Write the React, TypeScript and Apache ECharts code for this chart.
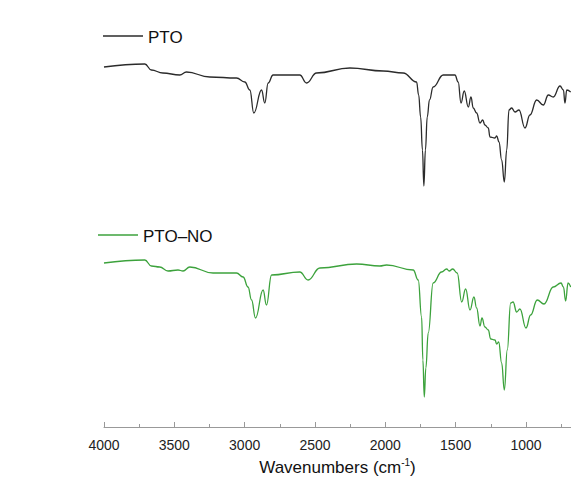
import React, { useEffect, useRef } from "react";
import * as echarts from "echarts";

// FTIR spectra (x: wavenumber in cm^-1, y: relative transmittance in arbitrary, offset units)
const ptoWavenumbers = [
  4000, 3710, 3663, 3582, 3461, 3414, 3248, 3058, 2999, 2963, 2935, 2880, 2857, 2833, 2798,
  2608, 2560, 2489, 2252, 2015, 1873, 1778, 1763, 1749, 1736, 1726, 1715, 1702, 1686, 1660,
  1588, 1505, 1482, 1462, 1439, 1410, 1391, 1375, 1351, 1327, 1308, 1292, 1268, 1256, 1221,
  1208, 1192, 1173, 1154, 1137, 1121, 1102, 1078, 1050, 1007, 972, 924, 877, 841, 806,
  758, 734, 723, 710, 682,
];
const ptoValues = [
  360, 363, 357, 354, 352, 355, 350, 349, 345, 337, 314, 337, 324, 344, 352,
  352, 344, 354, 359, 356, 354, 345, 332, 310, 277, 241, 277, 310, 327, 340,
  352, 352, 345, 324, 336, 320, 330, 319, 314, 304, 307, 302, 299, 290, 289,
  291, 285, 267, 245, 277, 317, 319, 315, 317, 299, 312, 327, 322, 332, 330,
  341, 337, 324, 337, 335,
];

const ptoNoWavenumbers = [
  4000, 3710, 3663, 3604, 3545, 3474, 3438, 3390, 3225, 3058, 3011, 2976, 2951, 2923, 2869,
  2845, 2809, 2608, 2549, 2465, 2204, 2039, 1991, 1802, 1766, 1742, 1733, 1723, 1712, 1695,
  1660, 1600, 1564, 1546, 1521, 1489, 1457, 1429, 1398, 1370, 1351, 1327, 1313, 1292, 1268,
  1251, 1221, 1208, 1194, 1173, 1154, 1133, 1109, 1092, 1066, 1043, 1000, 967, 920, 872,
  806, 751, 734, 718, 701, 682,
];
const ptoNoValues = [
  164, 167, 161, 160, 156, 157, 156, 160, 154, 154, 150, 140, 127, 109, 137,
  122, 152, 155, 147, 159, 163, 161, 162, 157, 147, 110, 67, 30, 59, 94,
  144, 155, 158, 156, 158, 154, 125, 138, 117, 130, 119, 101, 109, 100, 97,
  88, 87, 83, 85, 64, 37, 77, 124, 125, 115, 118, 99, 112, 127, 123,
  140, 144, 140, 126, 144, 140,
];

const majorTicks = [4000, 3500, 3000, 2500, 2000, 1500, 1000];
const minorTicks = [3750, 3250, 2750, 2250, 1750, 1250, 750];

const seriesNames = ["PTO", "PTO\u2013NO"];
const seriesColors = ["#2b2b2b", "#3ca23c"];

const FONT = "'Liberation Sans', Arial, Helvetica, sans-serif";

export default function App() {
  const ref = useRef<HTMLDivElement>(null);

  useEffect(() => {
    if (!ref.current) return;
    const chart = echarts.init(ref.current, undefined, { renderer: "svg" });

    const pto = ptoWavenumbers.map((w, i) => [w, ptoValues[i]]);
    const ptoNo = ptoNoWavenumbers.map((w, i) => [w, ptoNoValues[i]]);

    const xBase = {
      type: "value" as const,
      min: 680,
      max: 4000,
      inverse: true,
      splitLine: { show: false },
    };

    const legendItem = (x: number, y: number, name: string, color: string) => ({
      type: "group",
      children: [
        {
          type: "line",
          shape: { x1: x, y1: y, x2: x + 40, y2: y },
          style: { stroke: color, lineWidth: 1.3 },
        },
        {
          type: "text",
          x: x + 45,
          y: y + 1,
          style: {
            text: name,
            fill: "#111",
            font: `17px ${FONT}`,
            textVerticalAlign: "middle",
            verticalAlign: "middle",
          },
        },
      ],
    });

    chart.setOption({
      animation: false,
      backgroundColor: "#ffffff",
      textStyle: { fontFamily: FONT },
      grid: {
        left: 104,
        right: 0,
        top: 27,
        bottom: 58,
        containLabel: false,
        outerBoundsMode: "none",
      },
      graphic: [
        legendItem(103, 36, seriesNames[0], seriesColors[0]),
        legendItem(98, 235, seriesNames[1], seriesColors[1]),
      ],
      xAxis: [
        {
          ...xBase,
          position: "bottom",
          name: "{a|Wavenumbers (cm}{s|-1}{a|)}",
          nameLocation: "middle",
          nameGap: 30,
          nameTextStyle: {
            rich: {
              a: { fontSize: 17, color: "#111", fontFamily: FONT, lineHeight: 20 },
              s: { fontSize: 10, color: "#111", fontFamily: FONT, verticalAlign: "top", lineHeight: 20, padding: [0, 0, 10, 0] },
            },
          },
          axisLine: { show: true, lineStyle: { color: "#999", width: 1 } },
          axisTick: {
            show: true,
            inside: true,
            length: 5,
            customValues: majorTicks,
            lineStyle: { color: "#999" },
          },
          axisLabel: {
            show: true,
            customValues: majorTicks,
            margin: 11,
            fontSize: 14,
            color: "#222",
            fontFamily: FONT,
            formatter: (v: number) => String(v),
          },
        },
        {
          ...xBase,
          position: "bottom",
          offset: 0,
          axisLine: { show: false },
          axisLabel: { show: false },
          axisTick: {
            show: true,
            inside: true,
            length: 3,
            customValues: minorTicks,
            lineStyle: { color: "#999" },
          },
        },
      ],
      yAxis: {
        type: "value",
        min: 0,
        max: 400,
        show: false,
        splitLine: { show: false },
      },
      series: [
        {
          name: seriesNames[0],
          type: "line",
          data: pto,
          symbol: "none",
          smooth: 0.45,
          smoothMonotone: "x",
          lineStyle: { color: seriesColors[0], width: 1.3 },
          itemStyle: { color: seriesColors[0] },
          xAxisIndex: 0,
        },
        {
          name: seriesNames[1],
          type: "line",
          data: ptoNo,
          symbol: "none",
          smooth: 0.45,
          smoothMonotone: "x",
          lineStyle: { color: seriesColors[1], width: 1.3 },
          itemStyle: { color: seriesColors[1] },
          xAxisIndex: 0,
        },
      ],
    });

    return () => chart.dispose();
  }, []);

  return (
    <div
      ref={ref}
      style={{ position: "fixed", left: 0, top: 0, width: 571, height: 485 }}
    />
  );
}
